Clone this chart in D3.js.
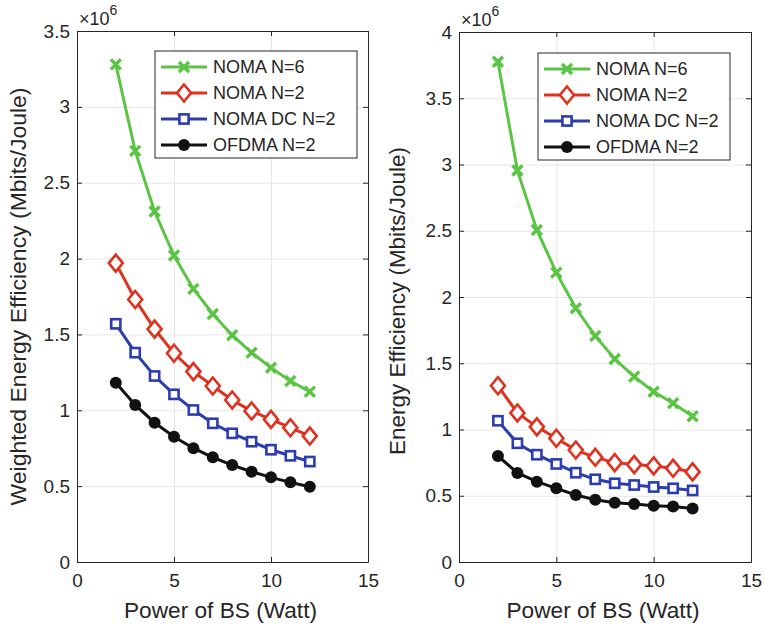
<!DOCTYPE html>
<html>
<head>
<meta charset="utf-8">
<script src="https://cdn.jsdelivr.net/npm/d3@7"></script>
<style>
  body { margin: 0; background: #fff; }
  text { font-family: "Liberation Sans", Arial, sans-serif; fill: #262626; }
  .grid line { stroke: #e6e6e6; stroke-width: 1; }
</style>
</head>
<body>
<svg id="chart" width="765" height="628"></svg>
<script>
// x values (Power of BS, Watt)
const power = [2, 3, 4, 5, 6, 7, 8, 9, 10, 11, 12];
const seriesNames = ["NOMA N=6", "NOMA N=2", "NOMA DC N=2", "OFDMA N=2"];
const xTicks = [0, 5, 10, 15];

// left panel: weighted energy efficiency (x 1e6)
const leftNoma6   = [3.28, 2.71, 2.31, 2.02, 1.80, 1.635, 1.495, 1.38, 1.28, 1.193, 1.123];
const leftNoma2   = [1.97, 1.73, 1.535, 1.376, 1.255, 1.16, 1.068, 0.995, 0.94, 0.885, 0.83];
const leftNomaDC  = [1.57, 1.38, 1.226, 1.105, 1.002, 0.914, 0.848, 0.793, 0.740, 0.70, 0.662];
const leftOfdma   = [1.182, 1.035, 0.918, 0.826, 0.75, 0.69, 0.639, 0.595, 0.558, 0.525, 0.496];
const leftYTicks  = [0, 0.5, 1, 1.5, 2, 2.5, 3, 3.5];

// right panel: energy efficiency (x 1e6)
const rightNoma6  = [3.775, 2.955, 2.506, 2.184, 1.915, 1.706, 1.532, 1.399, 1.285, 1.198, 1.10];
const rightNoma2  = [1.33, 1.125, 1.02, 0.934, 0.845, 0.79, 0.75, 0.735, 0.725, 0.707, 0.68];
const rightNomaDC = [1.066, 0.896, 0.81, 0.74, 0.674, 0.624, 0.594, 0.581, 0.566, 0.556, 0.54];
const rightOfdma  = [0.80, 0.672, 0.606, 0.556, 0.506, 0.47, 0.448, 0.438, 0.425, 0.418, 0.403];
const rightYTicks = [0, 0.5, 1, 1.5, 2, 2.5, 3, 3.5, 4];

const colors = ["#5ac443", "#e0301e", "#2b3db0", "#111111"];
const markers = ["x", "diamond", "square", "circle"];
const fmt = d3.format("~g");

const svg = d3.select("#chart");

function drawMarker(g, type, color) {
  if (type === "x") {
    g.append("path").attr("d", "M-5,-5L5,5M-5,5L5,-5")
      .attr("stroke", color).attr("stroke-width", 3.4).attr("fill", "none");
  } else if (type === "diamond") {
    g.append("path").attr("d", "M0,-8.5L7,0L0,8.5L-7,0Z")
      .attr("stroke", color).attr("stroke-width", 2.6).attr("fill", "#fff");
  } else if (type === "square") {
    g.append("rect").attr("x", -4.6).attr("y", -4.6).attr("width", 9.2).attr("height", 9.2)
      .attr("stroke", color).attr("stroke-width", 2.6).attr("fill", "#fff");
  } else {
    g.append("circle").attr("r", 6).attr("fill", color);
  }
}

function panel(cfg) {
  const x = d3.scaleLinear().domain([0, 15]).range([cfg.left, cfg.right]);
  const y = d3.scaleLinear().domain([0, cfg.yMax]).range([cfg.bottom, cfg.top]);
  const g = svg.append("g");
  const w = cfg.right - cfg.left, h = cfg.bottom - cfg.top;

  // grid
  g.append("g").attr("class", "grid")
    .attr("transform", `translate(0,${cfg.bottom})`)
    .call(d3.axisBottom(x).tickValues(xTicks).tickSize(-h).tickFormat(""))
    .call(s => s.select(".domain").remove());
  g.append("g").attr("class", "grid")
    .attr("transform", `translate(${cfg.left},0)`)
    .call(d3.axisLeft(y).tickValues(cfg.yTicks).tickSize(-w).tickFormat(""))
    .call(s => s.select(".domain").remove());

  // axes, MATLAB style: ticks inside, box on
  const ax = (axis, tx) => g.append("g").attr("transform", tx).call(axis)
    .call(s => s.selectAll("path,line").attr("stroke", "#262626"))
    .call(s => s.selectAll("text").style("font-size", "19px").attr("fill", "#262626"));
  ax(d3.axisBottom(x).tickValues(xTicks).tickSizeInner(-5).tickSizeOuter(0).tickPadding(12).tickFormat(fmt), `translate(0,${cfg.bottom})`);
  ax(d3.axisTop(x).tickValues(xTicks).tickSizeInner(-5).tickSizeOuter(0).tickFormat(""), `translate(0,${cfg.top})`);
  ax(d3.axisLeft(y).tickValues(cfg.yTicks).tickSizeInner(-5).tickSizeOuter(0).tickPadding(7).tickFormat(fmt), `translate(${cfg.left},0)`);
  ax(d3.axisRight(y).tickValues(cfg.yTicks).tickSizeInner(-5).tickSizeOuter(0).tickFormat(""), `translate(${cfg.right},0)`);

  // exponent label
  const ex = g.append("text").attr("x", cfg.left + 2).attr("y", cfg.top - 6).style("font-size", "18px");
  ex.append("tspan").text("×10");
  ex.append("tspan").attr("dy", -10).style("font-size", "14px").text("6");

  // series
  const line = d3.line().x((d, i) => x(power[i])).y(d => y(d));
  cfg.series.forEach((vals, k) => {
    g.append("path").datum(vals).attr("d", line)
      .attr("fill", "none").attr("stroke", colors[k]).attr("stroke-width", 3);
    vals.forEach((v, i) => {
      drawMarker(g.append("g").attr("transform", `translate(${x(power[i])},${y(v)})`), markers[k], colors[k]);
    });
  });

  // legend
  const lg = g.append("g").attr("transform", `translate(${cfg.legX},${cfg.legY})`);
  lg.append("rect").attr("width", cfg.legW).attr("height", 107)
    .attr("fill", "#fff").attr("stroke", "#262626").attr("stroke-width", 1);
  seriesNames.forEach((name, k) => {
    const row = lg.append("g").attr("transform", `translate(0,${16 + k * 26})`);
    row.append("line").attr("x1", 6).attr("x2", 52).attr("stroke", colors[k]).attr("stroke-width", 3);
    drawMarker(row.append("g").attr("transform", "translate(29,0)"), markers[k], colors[k]);
    row.append("text").attr("x", 58).attr("dy", "0.36em").style("font-size", "18px").text(name);
  });

  // labels
  g.append("text").attr("x", (cfg.left + cfg.right) / 2 - 2).attr("y", 618)
    .attr("text-anchor", "middle").style("font-size", "22px")
    .attr("textLength", 193).attr("lengthAdjust", "spacingAndGlyphs")
    .text("Power of BS (Watt)");
  g.append("text").attr("transform", `translate(${cfg.yLabX},${(cfg.top + cfg.bottom) / 2 + cfg.yLabDy}) rotate(-90)`)
    .attr("text-anchor", "middle").style("font-size", "22px")
    .attr("textLength", cfg.yLabLen).attr("lengthAdjust", "spacingAndGlyphs")
    .text(cfg.yLabel);
}

panel({
  left: 77, right: 368, top: 31, bottom: 562, yMax: 3.5, yTicks: leftYTicks,
  series: [leftNoma6, leftNoma2, leftNomaDC, leftOfdma],
  legX: 155, legY: 51, legW: 202, yLabX: 26, yLabDy: 0, yLabLen: 418,
  yLabel: "Weighted Energy Efficiency (Mbits/Joule)"
});
panel({
  left: 459, right: 751, top: 32, bottom: 562, yMax: 4, yTicks: rightYTicks,
  series: [rightNoma6, rightNoma2, rightNomaDC, rightOfdma],
  legX: 538, legY: 53, legW: 192, yLabX: 405, yLabDy: 4, yLabLen: 308,
  yLabel: "Energy Efficiency (Mbits/Joule)"
});
</script>
</body>
</html>
